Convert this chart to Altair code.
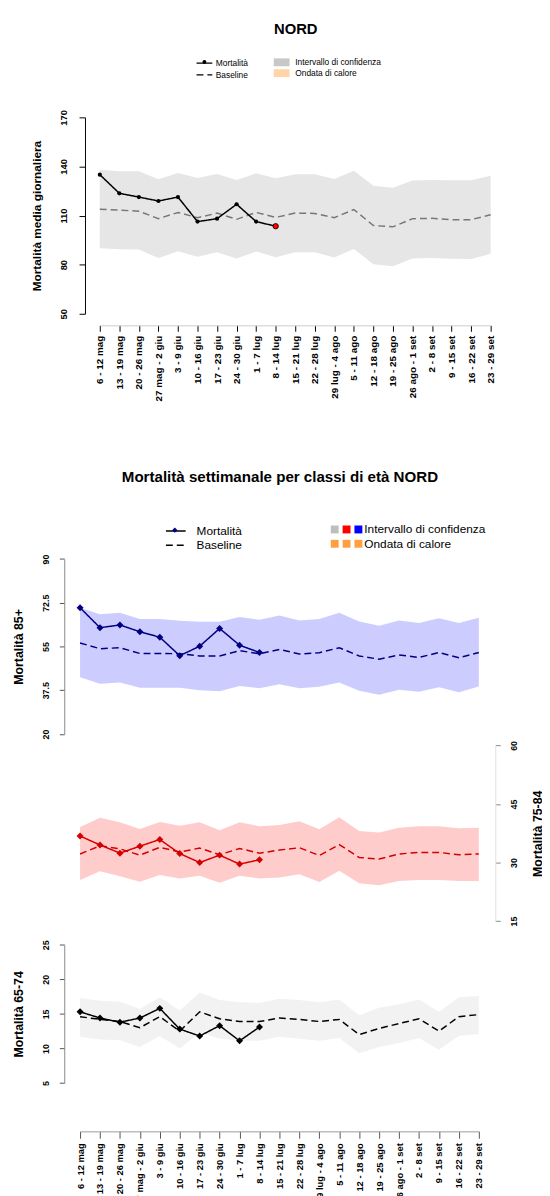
import json
import altair as alt
import pandas as pd

weeks = ["6 - 12 mag", "13 - 19 mag", "20 - 26 mag", "27 mag - 2 giu", "3 - 9 giu",
         "10 - 16 giu", "17 - 23 giu", "24 - 30 giu", "1 - 7 lug", "8 - 14 lug",
         "15 - 21 lug", "22 - 28 lug", "29 lug - 4 ago", "5 - 11 ago", "12 - 18 ago",
         "19 - 25 ago", "26 ago - 1 set", "2 - 8 set", "9 - 15 set", "16 - 22 set",
         "23 - 29 set"]

# NORD - mortalità media giornaliera
nord_mort = [135.0, 123.6, 121.3, 118.9, 121.3, 106.3, 108.1, 116.9, 106.3, 103.5]
nord_base = [113.9, 113.3, 112.7, 108.1, 111.9, 108.7, 111.5, 107.7, 111.9, 108.9, 111.5,
             111.3, 108.7, 113.7, 103.9, 103.1, 108.1, 108.3, 107.5, 107.5, 110.5]
nord_hi = [138.0, 137.0, 137.0, 132.2, 136.0, 133.0, 135.4, 131.8, 135.8, 132.8, 135.2,
           135.2, 132.4, 137.4, 128.2, 127.0, 131.4, 131.8, 131.6, 131.6, 134.4]
nord_lo = [90.0, 89.4, 89.2, 84.0, 88.2, 84.8, 87.6, 83.8, 88.0, 84.6, 87.6,
           87.6, 84.4, 89.6, 80.3, 79.1, 83.8, 84.0, 83.6, 83.4, 86.6]

# 85+
m85 = [70.5, 62.5, 63.6, 60.9, 58.7, 51.3, 55.1, 62.2, 55.5, 52.6]
b85 = [56.4, 54.1, 54.5, 52.2, 52.2, 52.1, 51.2, 51.2, 53.3, 52.1, 53.8,
       52.0, 52.5, 54.5, 51.2, 49.9, 51.6, 50.6, 52.6, 50.5, 52.6]
h85 = [70.5, 67.9, 68.5, 66.0, 66.0, 65.3, 64.9, 64.9, 66.8, 65.7, 67.4,
       65.4, 66.0, 68.5, 65.0, 63.3, 65.4, 64.4, 66.3, 64.4, 66.5]
l85 = [42.7, 40.1, 40.6, 38.5, 38.5, 38.5, 37.5, 37.1, 39.2, 38.3, 39.9,
       38.3, 38.9, 40.6, 37.3, 35.7, 37.7, 36.9, 38.7, 36.7, 39.0]

# 75-84
m75 = [36.8, 34.5, 32.4, 34.2, 35.9, 32.3, 30.0, 31.9, 29.6, 30.7]
b75 = [32.2, 34.3, 33.5, 31.9, 33.9, 32.7, 33.7, 32.0, 33.6, 32.4, 33.2,
       33.8, 31.8, 34.6, 31.3, 30.9, 32.2, 32.6, 32.6, 32.0, 32.2]
h75 = [39.1, 41.5, 40.3, 38.6, 40.4, 39.4, 40.3, 38.3, 40.3, 39.3, 39.6,
       40.6, 38.5, 41.6, 38.1, 37.7, 38.9, 39.3, 39.3, 38.8, 38.9]
l75 = [25.5, 27.8, 26.5, 25.1, 26.8, 25.9, 26.6, 24.8, 26.6, 25.9, 26.2,
       27.0, 25.0, 27.9, 24.7, 24.2, 25.3, 25.5, 25.5, 25.3, 25.3]

# 65-74
m65 = [15.3, 14.4, 13.8, 14.4, 15.8, 12.8, 11.8, 13.3, 11.1, 13.1]
b65 = [14.6, 14.2, 13.9, 13.0, 14.6, 12.5, 15.3, 14.3, 13.9, 13.9, 14.4,
       14.2, 13.9, 14.2, 12.0, 12.9, 13.6, 14.3, 12.5, 14.6, 14.9]
h65 = [17.3, 16.9, 16.8, 15.7, 17.4, 15.5, 18.1, 17.0, 16.7, 16.6, 17.2,
       17.0, 16.7, 17.1, 14.8, 15.9, 16.4, 17.1, 15.3, 17.4, 17.6]
l65 = [11.7, 11.3, 11.2, 10.2, 11.8, 10.0, 12.3, 11.4, 11.1, 11.1, 11.7,
       11.4, 11.1, 11.5, 9.3, 10.2, 10.8, 11.5, 9.8, 11.8, 12.1]

W, H = 541, 1188
FONT = "Liberation Sans"
idx = list(range(len(weeks)))
week_expr = json.dumps(weeks, ensure_ascii=False) + "[datum.value]"


def band_df(lo, hi, key):
    return pd.DataFrame({"i": idx, "lo": lo, "hi": hi, "ci": key})


def series_df(values, name):
    return pd.DataFrame({"i": idx[:len(values)], "value": values, "series": name})


def xenc(rng, axis):
    return alt.X("i:Q", scale=alt.Scale(domain=[0, len(weeks) - 1], range=rng,
                                        nice=False, zero=False), axis=axis)


def title_axis(text, y, size):
    return alt.Axis(orient="top", offset=0, title=text, titleY=y, titleFontSize=size,
                    titleFontWeight="bold", titleBaseline="alphabetic", domain=False,
                    ticks=False, labels=False, grid=False)


def week_axis(y_line, size, tick_col, dom_col, tick, pad):
    return alt.Axis(orient="bottom", offset=y_line - H, title=None, values=idx,
                    labelExpr=week_expr, labelAngle=270, labelAlign="right",
                    labelBaseline="middle", labelFontSize=size, labelFontWeight="bold",
                    labelPadding=pad, tickSize=tick, tickColor=tick_col, domainColor=dom_col,
                    labelOverlap=False, labelFlush=False, grid=False)


def y_axis(orient, offset, values, title, title_x, title_size, dom_col, tick_col,
           tick, pad, size):
    return alt.Axis(orient=orient, offset=offset, values=values,
                    labelExpr="'' + datum.value",
                    title=title, titleX=title_x, titleAngle=270, titleBaseline="middle",
                    titleAlign="center", titleFontSize=title_size, titleFontWeight="bold",
                    labelAngle=270, labelAlign="center",
                    labelBaseline="bottom" if orient == "left" else "top",
                    labelFontSize=size, labelFontWeight="bold", labelPadding=pad,
                    tickSize=tick, tickColor=tick_col, domainColor=dom_col,
                    labelOverlap=False, labelFlush=False, grid=False)


# ---------------- top panel ----------------
TOP_X = [93, 489]
top_y_scale = alt.Scale(domain=[50, 170], range=[302, 103], nice=False, zero=False)
top_yax = y_axis("left", -78, [50, 80, 110, 140, 170], "Mortalità media giornaliera",
                 -49, 12, "black", "black", 6, 11, 9.5)
top_dash_scale = alt.Scale(domain=["Mortalità", "Baseline"], range=[[1, 0], [7, 4]])
top_dash_legend = alt.Legend(orient="none", legendX=194, legendY=43, title=None,
                             symbolType="M-2,0H2", symbolSize=64, symbolStrokeWidth=1.2,
                             symbolStrokeColor="black", labelFontSize=8.5,
                             labelOffset=6.5, rowPadding=2, padding=0)

top_band = alt.Chart(band_df(nord_lo, nord_hi, "Intervallo di confidenza")).mark_area(
    fillOpacity=0.45).encode(
    x=xenc(TOP_X, title_axis("NORD", 18, 15)),
    y=alt.Y("lo:Q", scale=top_y_scale, axis=top_yax),
    y2="hi:Q",
    fill=alt.Fill("ci:N",
                  scale=alt.Scale(domain=["Intervallo di confidenza", "Ondata di calore"],
                                  range=["#c8c8c8", "#ffd4a6"]),
                  legend=alt.Legend(orient="none", legendX=273, legendY=43, title=None,
                                    symbolType="M-2,-1H2V1H-2Z", symbolSize=64,
                                    symbolStrokeWidth=0, symbolOpacity=1,
                                    labelFontSize=8.5, labelOffset=9.5, rowPadding=2,
                                    padding=0)),
)

top_base = alt.Chart(series_df(nord_base, "Baseline")).mark_line(
    strokeWidth=1.5, color="#777777").encode(
    x=xenc(TOP_X, week_axis(313.7, 10, "black", "#cccccc", 6, 4)),
    y=alt.Y("value:Q", scale=top_y_scale, axis=top_yax),
    strokeDash=alt.StrokeDash("series:N", scale=top_dash_scale, legend=top_dash_legend),
)

top_mort = alt.Chart(series_df(nord_mort, "Mortalità")).mark_line(
    strokeWidth=1.5, color="black").encode(
    x=xenc(TOP_X, None),
    y=alt.Y("value:Q", scale=top_y_scale, axis=top_yax),
    strokeDash=alt.StrokeDash("series:N", scale=top_dash_scale, legend=top_dash_legend),
)

top_pts = alt.Chart(series_df(nord_mort, "Mortalità")).mark_point(
    filled=True, size=18, color="black", opacity=1).encode(
    x=xenc(TOP_X, None),
    y=alt.Y("value:Q", scale=top_y_scale, axis=top_yax),
    shape=alt.Shape("series:N", scale=alt.Scale(domain=["Mortalità"], range=["circle"]),
                    legend=alt.Legend(orient="none", legendX=197, legendY=45, title=None,
                                      labelExpr="''", symbolSize=16,
                                      symbolFillColor="black", symbolStrokeColor="black",
                                      symbolStrokeWidth=0, labelFontSize=4, padding=0)),
)

top_last = alt.Chart(series_df(nord_mort, "Mortalità")).transform_filter(
    alt.datum.i == len(nord_mort) - 1).mark_point(
    filled=True, size=30, fill="red", stroke="black", strokeWidth=0.8, opacity=1).encode(
    x=xenc(TOP_X, None),
    y=alt.Y("value:Q", scale=top_y_scale, axis=top_yax),
)

top = alt.layer(top_band, top_base, top_mort, top_pts, top_last).resolve_scale(
    x="independent")

# ---------------- bottom panels ----------------
BOT_X = [73, 477]
# entries are laid out column by column (2 rows x 3 columns)
bot_fill_scale = alt.Scale(domain=["g", "o1", "r", "o2", "b", "o3"],
                           range=["#bebebe", "#ffa040", "#ff0000",
                                  "#ffa040", "#0000ff", "#ffa040"])
bot_fill_legend = alt.Legend(
    orient="none", legendX=325, legendY=514.5, title=None, columns=3, columnPadding=0,
    rowPadding=2.5, symbolType="square", symbolSize=64, symbolStrokeWidth=0,
    symbolOpacity=1, labelFontSize=12, labelOffset=0, padding=0,
    labelExpr="datum.value == 'b' ? '\u00a0\u00a0Intervallo di confidenza' : "
              "(datum.value == 'o3' ? '\u00a0\u00a0Ondata di calore' : '')")
bot_dash_scale = alt.Scale(domain=["Mortalità", "Baseline"], range=[[1, 0], [7, 4]])
bot_dash_legend = alt.Legend(orient="none", legendX=164, legendY=516, title=None,
                             symbolType="M-2.5,0H2.5", symbolSize=64,
                             symbolStrokeWidth=1.5, symbolStrokeColor="black",
                             labelFontSize=12, labelOffset=15, rowPadding=2.5, padding=0)
bot_shape_scale = alt.Scale(domain=["Mortalità"], range=["diamond"])
bot_shape_legend = alt.Legend(orient="none", legendX=166, legendY=518.2, title=None,
                              labelExpr="''", symbolSize=30, symbolFillColor="black",
                              symbolStrokeColor="black", symbolStrokeWidth=0,
                              labelFontSize=5, padding=0)


def age_panel(mort, base, lo, hi, key, col, yscale, yaxis, xaxis):
    xe = xenc(BOT_X, xaxis)
    ye = alt.Y("value:Q", scale=yscale, axis=yaxis)
    band = alt.Chart(band_df(lo, hi, key)).mark_area(fillOpacity=0.2).encode(
        x=xe, y=alt.Y("lo:Q", scale=yscale, axis=yaxis), y2="hi:Q",
        fill=alt.Fill("ci:N", scale=bot_fill_scale, legend=bot_fill_legend))
    base_line = alt.Chart(series_df(base, "Baseline")).mark_line(
        color=col, strokeWidth=1.5).encode(
        x=xe, y=ye,
        strokeDash=alt.StrokeDash("series:N", scale=bot_dash_scale, legend=bot_dash_legend))
    mort_line = alt.Chart(series_df(mort, "Mortalità")).mark_line(
        color=col, strokeWidth=1.5).encode(
        x=xe, y=ye,
        strokeDash=alt.StrokeDash("series:N", scale=bot_dash_scale, legend=bot_dash_legend))
    pts = alt.Chart(series_df(mort, "Mortalità")).mark_point(
        filled=True, size=50, color=col, opacity=1).encode(
        x=xe, y=ye,
        shape=alt.Shape("series:N", scale=bot_shape_scale, legend=bot_shape_legend))
    return alt.layer(band, base_line, mort_line, pts)


p85 = age_panel(
    m85, b85, l85, h85, "b", "#000080",
    alt.Scale(domain=[20, 90], range=[727.7, 550.4], nice=False, zero=False),
    y_axis("left", -57, [20, 37.5, 55, 72.5, 90], "Mortalità 85+", -46, 12.5,
           "#888888", "#555555", 5, 9, 9),
    title_axis("Mortalità settimanale per classi di età NORD", 472, 15.3))

p75 = age_panel(
    m75, b75, l75, h75, "r", "#d40000",
    alt.Scale(domain=[15, 60], range=[917.3, 739.3], nice=False, zero=False),
    y_axis("right", 493.7 - W, [15, 30, 45, 60], "Mortalità 75-84", 43.3, 12.5,
           "#e0e0e0", "#888888", 5, 9, 9),
    None)

p65 = age_panel(
    m65, b65, l65, h65, "g", "black",
    alt.Scale(domain=[5, 25], range=[1081.3, 941.3], nice=False, zero=False),
    y_axis("left", -57, [5, 10, 15, 20, 25], "Mortalità 65-74", -46, 12.5,
           "#888888", "#555555", 5, 9, 9),
    week_axis(1130.3, 9.5, "#555555", "#999999", 7, 4.5))

bottom = alt.layer(p85, p75, p65).resolve_scale(x="independent", y="independent")

chart = alt.layer(top, bottom).resolve_scale(
    x="independent", y="independent", fill="independent", strokeDash="independent",
    shape="independent"
).properties(
    width=W, height=H, padding=0, autosize=alt.AutoSizeParams(type="none")
).configure(font=FONT).configure_view(stroke=None).configure_axis(
    grid=False, labelColor="black", titleColor="black", labelFont=FONT, titleFont=FONT
).configure_legend(labelColor="black", labelFont=FONT)

chart.save("out.html", embed_options={"renderer": "svg", "actions": False})
